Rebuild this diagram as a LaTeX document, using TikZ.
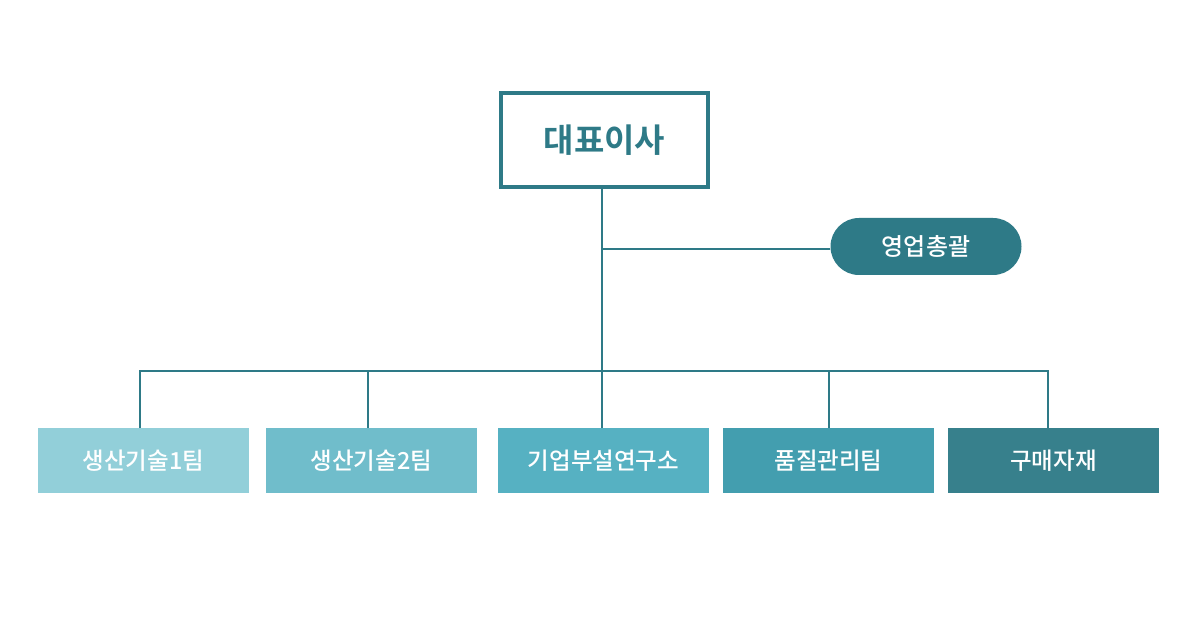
\documentclass[tikz,border=0pt]{standalone}
\usepackage{fontspec}
\newfontfamily\kr{Noto Sans CJK KR Medium}
\newfontfamily\krb{Noto Sans CJK KR Bold}
\definecolor{teal}{HTML}{2E7A87}
\definecolor{c1}{HTML}{92CFD9}
\definecolor{c2}{HTML}{70BDCB}
\definecolor{c3}{HTML}{56B1C2}
\definecolor{c4}{HTML}{439EAF}
\definecolor{c5}{HTML}{37808C}
\tikzset{
  team/.style={rectangle, inner sep=0pt, minimum width=211pt, minimum height=65pt,
    text=white, font=\kr\fontsize{23.5}{28}\selectfont},
  link/.style={draw=teal, line width=2pt},
}
\begin{document}
\begin{tikzpicture}[x=1pt,y=-1pt]
\useasboundingbox[fill=white] (0,0) rectangle (1200,620);
\node[draw=teal, line width=4pt, minimum width=207pt, minimum height=94pt, inner sep=0pt,
  text=teal, font=\krb\fontsize{33}{38}\selectfont] (ceo) at (604.5,140) {대표이사};
\node[fill=teal, rounded corners=28.5pt, minimum width=191pt, minimum height=57pt, inner sep=0pt,
  text=white, font=\kr\fontsize{24}{28}\selectfont] (sales) at (926,246.5) {영업총괄};
\node[team, fill=c1] (b1) at (143.5,460.5) {생산기술1팀};
\node[team, fill=c2] (b2) at (371.5,460.5) {생산기술2팀};
\node[team, fill=c3] (b3) at (603.5,460.5) {기업부설연구소};
\node[team, fill=c4] (b4) at (828.5,460.5) {품질관리팀};
\node[team, fill=c5] (b5) at (1053.5,460.5) {구매자재};
\coordinate (j1) at (602,249);
\coordinate (j2) at (602,371);
\draw[link] (j1 |- ceo.south) -- (j2);
\draw[link] (j1) -- (j1 -| sales.west);
\draw[link] ([xshift=-3.5pt]b1.north) |- ([xshift=-5.5pt]b5.north |- j2) -- ([xshift=-5.5pt]b5.north);
\draw[link] ([xshift=-3.5pt]b2.north) -- ([xshift=-3.5pt]b2.north |- j2);
\draw[link] (j2) -- (j2 |- b3.north);
\draw[link] (b4.north) -- (b4.north |- j2);
\end{tikzpicture}
\end{document}
